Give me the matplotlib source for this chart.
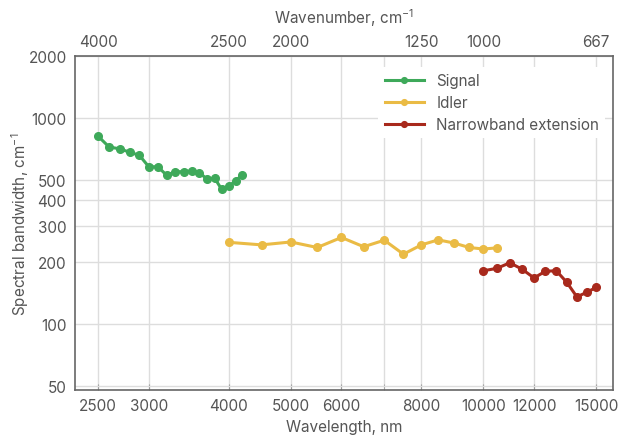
import matplotlib
matplotlib.use("Agg")
import matplotlib.pyplot as plt
from matplotlib.ticker import FixedLocator, NullLocator

plt.rcParams['font.family'] = ['Inter', 'DejaVu Sans']
plt.rcParams['mathtext.default'] = 'regular'

# data: wavelength (nm) and spectral bandwidth (cm-1)
signal_wl = [2500, 2600, 2700, 2800, 2900, 3000, 3100, 3200, 3300, 3400,
             3500, 3600, 3700, 3800, 3900, 4000, 4100, 4200]
signal_bw = [817, 725, 710, 684, 660, 581, 581, 528, 550, 550,
             555, 545, 505, 513, 451, 467, 498, 530]

idler_wl = [4000, 4500, 5000, 5500, 6000, 6500, 7000, 7500, 8000, 8500,
            9000, 9500, 10000, 10500]
idler_bw = [250, 243, 251, 236, 264, 238, 256, 219, 243, 257,
            248, 236, 232, 235]

narrow_wl = [10000, 10500, 11000, 11500, 12000, 12500, 13000, 13500, 14000, 14500, 15000]
narrow_bw = [182, 187, 199, 185, 168, 181, 182, 160, 136, 143, 151]

x_ticks = [2500, 3000, 4000, 5000, 6000, 8000, 10000, 12000, 15000]
y_ticks = [50, 100, 200, 300, 400, 500, 1000, 2000]
top_ticks = [4000, 2500, 2000, 1250, 1000, 667]  # wavenumber, cm-1

txt = '#555555'
grid_c = '#dddddd'

fig = plt.figure(figsize=(6.25, 4.39), dpi=100)
ax = fig.add_axes([0.12, 0.109, 0.861, 0.761])

ax.plot(signal_wl, signal_bw, color='#3ea95a', marker='o', markersize=5.5, linewidth=2.2, label='Signal')
ax.plot(idler_wl, idler_bw, color='#eabb45', marker='o', markersize=5.5, linewidth=2.2, label='Idler')
ax.plot(narrow_wl, narrow_bw, color='#a8291c', marker='o', markersize=5.5, linewidth=2.2, label='Narrowband extension')

ax.set_xscale('log')
ax.set_yscale('log')
ax.set_xlim(2300, 15950)
ax.set_ylim(48, 2000)

ax.xaxis.set_major_locator(FixedLocator(x_ticks))
ax.xaxis.set_minor_locator(FixedLocator([7000]))
ax.set_xticklabels([str(v) for v in x_ticks])
ax.xaxis.set_minor_formatter(plt.NullFormatter())
ax.yaxis.set_major_locator(FixedLocator(y_ticks))
ax.yaxis.set_minor_locator(NullLocator())
ax.set_yticklabels([str(v) for v in y_ticks])

ax.grid(True, which='both', color=grid_c, linewidth=1)
ax.set_axisbelow(True)
ax.tick_params(axis='x', which='both', direction='in', top=True, bottom=False, length=4,
               color='#999999', labelsize=11, labelcolor=txt, pad=6)
ax.tick_params(axis='y', length=0, labelsize=11, labelcolor=txt, pad=6)

for s in ax.spines.values():
    s.set_color('#666666')
    s.set_linewidth(1.2)

ax.set_xlabel('Wavelength, nm', fontsize=11, color=txt, labelpad=4)
ax.set_ylabel('Spectral bandwidth, cm$^{-1}$', fontsize=11, color=txt)
ax.yaxis.set_label_coords(-0.082, 0.5)

# top axis in wavenumber
top = ax.twiny()
top.set_xscale('log')
top.set_xlim(ax.get_xlim())
top.xaxis.set_major_locator(FixedLocator([1e7 / w for w in top_ticks]))
top.xaxis.set_minor_locator(NullLocator())
top.set_xticklabels([str(w) for w in top_ticks])
top.tick_params(axis='x', length=0, labelsize=11, labelcolor=txt, pad=5)
top.set_xlabel('Wavenumber, cm$^{-1}$', fontsize=11, color=txt, labelpad=8)
for s in top.spines.values():
    s.set_visible(False)

leg = ax.legend(loc='upper right', bbox_to_anchor=(1.0, 0.99), frameon=True, fontsize=11,
                handlelength=2.6, markerscale=0.75, borderpad=0.4, labelspacing=0.45, handletextpad=0.8)
leg.get_frame().set_facecolor('white')
leg.get_frame().set_edgecolor('none')
leg.get_frame().set_alpha(1)
for t in leg.get_texts():
    t.set_color(txt)

fig.savefig('out.png', dpi=100)
